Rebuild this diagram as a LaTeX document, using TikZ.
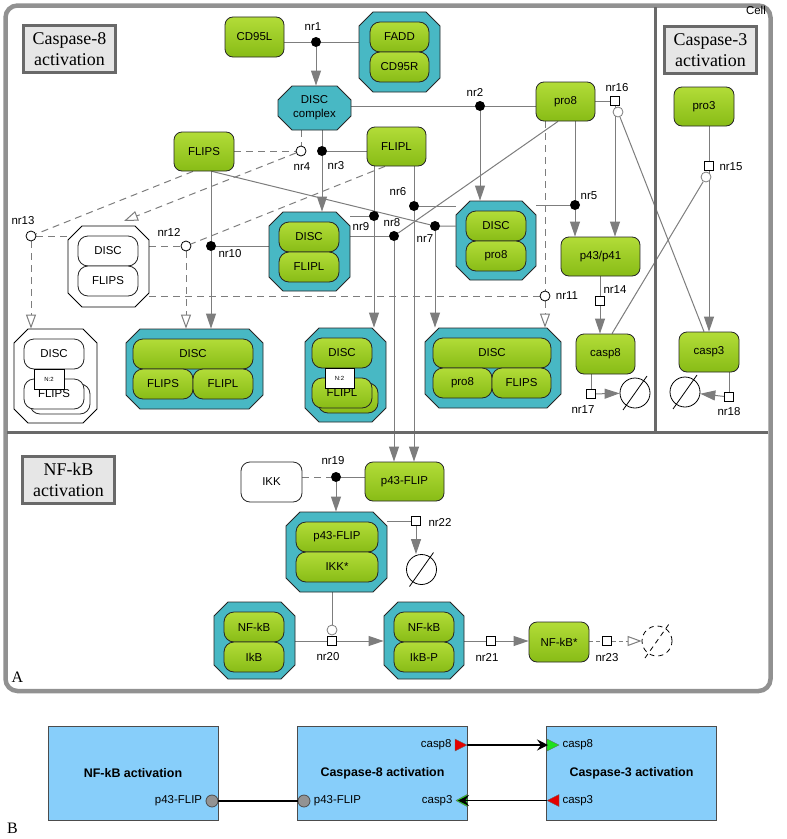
\documentclass[tikz,border=0pt]{standalone}
\usepackage{fontspec}
\setmainfont{Liberation Serif}
\setsansfont{Liberation Sans}
\usetikzlibrary{arrows.meta,shapes.misc}

\definecolor{spgreenA}{RGB}{178,220,56}
\definecolor{spgreenB}{RGB}{136,188,22}
\definecolor{cxteal}{RGB}{72,184,196}
\definecolor{lngray}{RGB}{125,125,125}
\definecolor{frmgray}{RGB}{145,145,145}
\definecolor{ttlgray}{RGB}{105,105,105}
\definecolor{ttlfill}{RGB}{230,230,230}
\definecolor{modblue}{RGB}{135,206,250}
\definecolor{portred}{RGB}{228,0,0}
\definecolor{portgreen}{RGB}{30,225,30}

\pgfdeclarelayer{bg}
\pgfsetlayers{bg,main}

\tikzset{
  lbl/.style={font=\sffamily\fontsize{11.5}{14}\selectfont},
  species/.style 2 args={lbl, draw=black!85, line width=0.8bp, rounded corners=8bp,
    top color=spgreenA, bottom color=spgreenB, minimum width=#1bp,
    minimum height=#2bp, inner sep=0pt, align=center},
  wspecies/.style 2 args={lbl, draw=black!85, line width=0.8bp, fill=white,
    rounded corners=9bp, minimum width=#1bp, minimum height=#2bp, inner sep=0pt},
  subunit/.style 2 args={species={#1}{#2}, rounded corners=10bp},
  wsubunit/.style 2 args={wspecies={#1}{#2}, rounded corners=10bp},
  cxbase/.style={chamfered rectangle, chamfered rectangle xsep=7bp,
    chamfered rectangle ysep=7bp, draw=black!85, line width=0.8bp, inner sep=0pt},
  cplx/.style 2 args={cxbase, fill=cxteal, text width=#1bp-14bp,
    text height=#2bp/2-7bp, text depth=#2bp/2-7bp},
  wcplx/.style 2 args={cplx={#1}{#2}, fill=white, draw=black},
  nmark/.style={draw=black, line width=0.8bp, fill=white, inner sep=0pt,
    minimum width=30bp, minimum height=20bp, font=\sffamily\fontsize{6}{6}\selectfont},
  rdot/.style={circle, fill=black, inner sep=0pt, minimum size=10bp},
  ring/.style={circle, draw=black, line width=0.8bp, fill=white, inner sep=0pt, minimum size=10bp},
  modring/.style={circle, draw=lngray, line width=0.8bp, fill=white, inner sep=0pt, minimum size=10bp},
  sq/.style={draw=black, line width=0.8bp, fill=white, inner sep=0pt, minimum size=9bp},
  nrlbl/.style={lbl, inner sep=0pt},
  degr/.style={circle, draw=black, line width=0.8bp, inner sep=0pt, minimum size=30bp},
  ln/.style={draw=lngray, line width=1bp},
  dln/.style={ln, dash pattern=on 7bp off 5bp},
  openarr/.style={-{Triangle[open, width=10bp, length=14bp, fill=white]}},
  ttl/.style={draw=ttlgray, line width=3bp, fill=ttlfill, minimum width=92bp,
    minimum height=47bp, inner sep=0pt, align=center,
    font=\rmfamily\fontsize{18}{21}\selectfont},
  modbox/.style={draw=black!70, line width=0.8bp, fill=modblue, minimum width=170bp,
    minimum height=94bp, inner sep=0pt,
    font=\sffamily\bfseries\fontsize{12.5}{14}\selectfont},
  pcirc/.style={circle, draw=black!70, line width=0.8bp, fill=gray!85, minimum size=12bp, inner sep=0pt},
  barr/.style={draw=black, line width=1.2bp, -{Stealth[length=11bp, width=11bp, inset=4bp]}}
}

\begin{document}
\begin{tikzpicture}[x=1bp, y=-1bp, >={Triangle[width=10bp,length=15bp]}]
\useasboundingbox (0,0) rectangle (787,839);

% compartments
\draw[frmgray, line width=4.5bp, rounded corners=12bp] (5.5,5.5) rectangle (770.5,691);
\draw[ttlgray, line width=3bp] (7,432) -- (768,432);
\draw[ttlgray, line width=3bp] (655,7) -- (655,432);
\node[lbl, anchor=north east, inner sep=0pt] (cell) at (766,6) {Cell};
\node[ttl] (t8) at (69.5,49) {Caspase-8\\activation};
\node[ttl] (t3) at (710.5,50) {Caspase-3\\activation};
\node[ttl] (tnf) at (68.5,480) {NF-kB\\activation};
\node[font=\rmfamily\fontsize{16}{16}\selectfont] (la) at (17.5,677) {A};
\node[font=\rmfamily\fontsize{16}{16}\selectfont] (lb) at (12.5,828) {B};

% species
\node[species={59}{40}] (cd95l) at (254.5,37) {CD95L};
\node[species={59}{39}] (pro8) at (565.5,101.5) {pro8};
\node[species={60}{39}] (flips) at (204,151.5) {FLIPS};
\node[species={59}{39}] (flipl) at (396.5,146.5) {FLIPL};
\node[species={79}{39}] (p4341) at (600.5,256.5) {p43/p41};
\node[species={59}{40}] (casp8) at (605.5,354) {casp8};
\node[species={60}{39}] (pro3) at (704,106.5) {pro3};
\node[species={60}{40}] (casp3) at (709,352) {casp3};
\node[wspecies={61}{40}] (ikk) at (271.5,482) {IKK};
\node[species={79}{39}] (p43flip) at (404.5,481.5) {p43-FLIP};
\node[species={60}{40}] (nfk) at (559,642) {NF-kB*};

% complexes
\node[cplx={81}{80}] (cfadd) at (399.5,52) {};
\node[subunit={59}{30}] at (399.5,37) {FADD};
\node[subunit={59}{30}] at (399.5,67) {CD95R};

\node[cxbase, fill=cxteal, lbl, align=center, minimum width=73bp,
  minimum height=44bp] (disc) at (314.5,108) {DISC\\complex};

\node[cplx={81}{79}] (dflipl) at (309.5,251.5) {};
\node[subunit={60}{30}] at (309,237) {DISC};
\node[subunit={60}{30}] at (309,267) {FLIPL};

\node[cplx={80}{79}] (dpro8) at (496,240.5) {};
\node[subunit={60}{30}] at (496,226) {DISC};
\node[subunit={60}{30}] at (496,256) {pro8};

\node[wcplx={81}{81}] (wdf) at (108.5,266.5) {};
\node[wsubunit={60}{30}] at (108,251) {DISC};
\node[wsubunit={60}{30}] at (108,281) {FLIPS};

\node[wcplx={83}{94}] (wdfN) at (55.5,376) {};
\node[wsubunit={60}{30}] at (54,354) {DISC};
\node[wsubunit={60}{30}] at (60,399) {};
\node[wsubunit={60}{30}] at (54,394) {FLIPS};
\node[nmark] at (49,379) {N:2};

\node[cplx={137}{80}] (dff) at (194.5,369) {};
\node[subunit={120}{30}] at (193,354) {DISC};
\node[subunit={60}{30}] at (163,384) {FLIPS};
\node[subunit={60}{30}] at (223,384) {FLIPL};

\node[cplx={81}{94}] (dfliplN) at (345.5,375) {};
\node[subunit={60}{30}] at (342,353) {DISC};
\node[subunit={60}{30}] at (348,398) {};
\node[subunit={60}{30}] at (342,393) {FLIPL};
\node[nmark, minimum width=29bp] at (339.5,378) {N:2};

\node[cplx={136}{80}] (dpf) at (493,368) {};
\node[subunit={118}{30}] at (492,353) {DISC};
\node[subunit={59}{30}] at (462.5,383) {pro8};
\node[subunit={59}{30}] at (521.5,383) {FLIPS};

\node[cplx={101}{80}] (pik) at (336.5,552) {};
\node[subunit={82}{30}] at (337,537) {p43-FLIP};
\node[subunit={82}{30}] at (337,567) {IKK*};

\node[cplx={81}{77}] (nfib) at (254.5,640.5) {};
\node[subunit={60}{30}] at (254,627) {NF-kB};
\node[subunit={60}{30}] at (254,657) {IkB};

\node[cplx={80}{77}] (nfibp) at (424,640.5) {};
\node[subunit={60}{30}] at (424,627) {NF-kB};
\node[subunit={60}{30}] at (424,657) {IkB-P};

% degradation
\node[degr] (deg1) at (635,393) {};
\node[degr] (deg2) at (685,392) {};
\node[degr] (deg3) at (421.5,569.5) {};
\node[degr, dash pattern=on 5bp off 4bp] (deg4) at (657,641) {};
\draw[line width=0.8bp] (deg1.center) ++(-12,17) -- ++(24,-34);
\draw[line width=0.8bp] (deg2.center) ++(-12,17) -- ++(24,-34);
\draw[line width=0.8bp] (deg3.center) ++(-12,17) -- ++(24,-34);
\draw[line width=0.8bp, dash pattern=on 5bp off 4bp] (deg4.center) ++(-12,17) -- ++(24,-34);

% reactions
\node[rdot] (r1) at (316,42) {};
\node[rdot] (r2) at (480,106) {};
\node[rdot] (r3) at (322,151) {};
\node[ring] (r4) at (301,151) {};
\node[rdot] (r5) at (575,205) {};
\node[rdot] (r6) at (414,206) {};
\node[rdot] (r7) at (435,226) {};
\node[rdot] (r8) at (394,236) {};
\node[rdot] (r9) at (374,216) {};
\node[rdot] (r10) at (211,246) {};
\node[ring] (r11) at (545,296) {};
\node[ring] (r12) at (186,246) {};
\node[ring] (r13) at (31,236) {};
\node[sq] (r14) at (600,301) {};
\node[sq] (r15) at (709,166) {};
\node[sq] (r16) at (615,101) {};
\node[sq] (r17) at (591,394) {};
\node[sq] (r18) at (729,397) {};
\node[rdot] (r19) at (336,477) {};
\node[sq] (r20) at (332,641) {};
\node[sq] (r21) at (491,641) {};
\node[sq] (r22) at (416,521) {};
\node[sq] (r23) at (607,641) {};
\node[modring] (m15) at (706,177) {};
\node[modring] (m16) at (618,112) {};
\node[modring] (m20) at (332,630) {};

\foreach \n/\x/\y in {1/313/27, 2/475/92, 3/336/166, 4/302/167, 5/589/196,
  6/398/192, 7/425/239, 8/392/223, 9/361/227, 10/230/254, 11/567/296,
  12/169/232, 13/23/221, 14/615/290, 15/731/167, 16/617/88, 17/583/410,
  18/729/412, 19/333/461, 20/328/657, 21/487/657, 22/440/522, 23/607/658}
  \node[nrlbl] (t\n) at (\x,\y) {nr\n};

\coordinate (fsb) at ([xshift=8bp]flips.south);
\coordinate (fsl) at ([xshift=-11bp]flips.south);
\coordinate (flb) at ([xshift=-11.5bp]flipl.south);
\coordinate (p8b) at ([xshift=-7.5bp]pro8.south);
\coordinate (c8t) at ([xshift=6.5bp]casp8.north);
\coordinate (c3t) at ([xshift=-5bp]casp3.north);
\coordinate (e4) at (124,221);

\begin{pgfonlayer}{bg}
  \draw[ln] (r1 -| cd95l.east) -- (r1) -- (r1 -| cfadd.west);
  \draw[ln,->] (r1) -- (r1 |- disc.north);
  \draw[ln] (r2 -| disc.east) -- (r2) -- (r2 -| pro8.west);
  \draw[ln,->] (r2) -- (r2 |- dpro8.north);
  \draw[ln] (r3 |- disc.south) -- (r3) -- (r3 -| flipl.west);
  \draw[ln,->] (r3) -- (r3 |- dflipl.north);
  \draw[dln] (r4 -| flips.east) -- (r4);
  \draw[dln] (r4 |- disc.south) -- (r4);
  \draw[dln,openarr] (r4) -- (e4);
  \draw[ln] (r5 |- pro8.south) -- (r5);
  \draw[ln] (r5 -| dpro8.east) -- (r5);
  \draw[ln,->] (r5) -- (r5 |- p4341.north);
  \draw[ln] (r6 |- flipl.south) -- (r6) -- (r6 -| dpro8.west);
  \draw[ln,->] (r6) -- (r6 |- p43flip.north);
  \draw[ln] (fsb) -- (r7) -- (r7 -| dpro8.west);
  \draw[ln,->] (r7) -- (r7 |- dpf.north);
  \draw[ln] (p8b) -- (r8);
  \draw[ln] (r8 -| dflipl.east) -- (r8);
  \draw[ln,->] (r8) -- (r8 |- p43flip.north);
  \draw[ln] (r9 -| dflipl.east) -- (r9);
  \draw[ln] (r9 |- flipl.south) -- (r9);
  \draw[ln,->] (r9) -- (r9 |- dfliplN.north);
  \draw[ln] (r10 |- flips.south) -- (r10) -- (r10 -| dflipl.west);
  \draw[ln,->] (r10) -- (r10 |- dff.north);
  \draw[dln] (r11 |- pro8.south) -- (r11);
  \draw[dln] (r11 -| wdf.east) -- (r11);
  \draw[dln,openarr] (r11) -- (r11 |- dpf.north);
  \draw[dln] (r12 -| wdf.east) -- (r12);
  \draw[dln] (flb) -- (r12);
  \draw[dln,openarr] (r12) -- (r12 |- dff.north);
  \draw[dln] (fsl) -- (r13);
  \draw[dln] (r13) -- (r13 -| wdf.west);
  \draw[dln,openarr] (r13) -- (r13 |- wdfN.north);
  \draw[ln] (r14 |- p4341.south) -- (r14);
  \draw[ln,->] (r14) -- (r14 |- casp8.north);
  \draw[ln] (r15 |- pro3.south) -- (r15);
  \draw[ln,->] (r15) -- (r15 |- casp3.north);
  \draw[ln] (c8t) -- (m15);
  \draw[ln] (r16 -| pro8.east) -- (r16);
  \draw[ln,->] (r16) -- (r16 |- p4341.north);
  \draw[ln] (c3t) -- (m16);
  \draw[ln] (r17 |- casp8.south) -- (r17);
  \draw[ln,->] (r17) -- (deg1);
  \draw[ln] (r18 |- casp3.south) -- (r18);
  \draw[ln,->] (r18) -- (deg2);
  \draw[dln] (r19 -| ikk.east) -- (r19);
  \draw[ln] (r19) -- (r19 -| p43flip.west);
  \draw[ln,->] (r19) -- (r19 |- pik.north);
  \draw[ln] (m20 |- pik.south) -- (m20);
  \draw[ln] (r20 -| nfib.east) -- (r20);
  \draw[ln,->] (r20) -- (r20 -| nfibp.west);
  \draw[ln] (r21 -| nfibp.east) -- (r21);
  \draw[ln,->] (r21) -- (r21 -| nfk.west);
  \draw[ln] (r22 -| pik.east) -- (r22);
  \draw[ln,->] (r22) -- (r22 |- deg3.north);
  \draw[ln, dash pattern=on 4bp off 3bp] (r23 -| nfk.east) -- (r23);
  \draw[ln, dash pattern=on 4bp off 3bp, openarr] (r23) -- (deg4);
\end{pgfonlayer}

% modules
\node[modbox] (mnf) at (133,773) {NF-kB activation};
\node[modbox] (mc8) at (382.5,773) {Caspase-8 activation};
\node[modbox] (mc3) at (631.5,773) {Caspase-3 activation};
\node[pcirc] (pnf) at (212,801) {};
\node[pcirc] (pc8) at (304,801) {};
\node[lbl, anchor=east] at (pnf.west) {p43-FLIP};
\node[lbl, anchor=west] at (pc8.east) {p43-FLIP};
\filldraw[fill=portred, draw=black!60] (455,739) -- (467,745) -- (455,751) -- cycle;
\filldraw[fill=portgreen, draw=black!60] (467,794.5) -- (456,800.5) -- (467,806.5) -- cycle;
\filldraw[fill=portgreen, draw=black!60] (547,739) -- (559,745) -- (547,751) -- cycle;
\filldraw[fill=portred, draw=black!60] (559,794.5) -- (547,800.5) -- (559,806.5) -- cycle;
\node[lbl, anchor=east] at (455,745) {casp8};
\node[lbl, anchor=east] at (456,800.5) {casp3};
\node[lbl, anchor=west] at (559,745) {casp8};
\node[lbl, anchor=west] at (559,800.5) {casp3};
\coordinate (o8) at (467,745);
\coordinate (i8) at (548,745);
\coordinate (o3) at (547,800.5);
\coordinate (i3) at (458,800.5);
\draw[line width=1.2bp] (pnf) -- (pc8);
\draw[barr] (o8) -- (i8);
\draw[barr] (o3) -- (i3);
\end{tikzpicture}
\end{document}
